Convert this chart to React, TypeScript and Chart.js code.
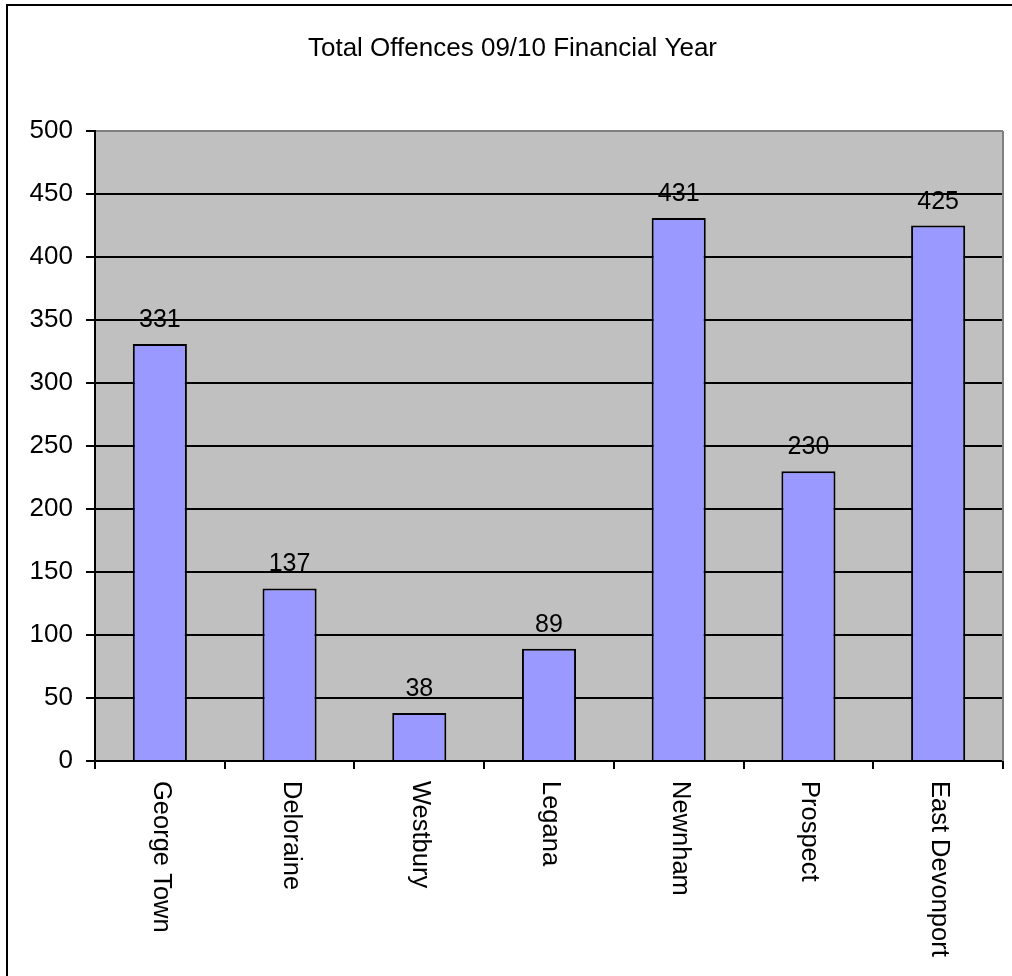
import React, { useEffect, useRef } from "react";
import { Chart, registerables } from "chart.js";

Chart.register(...registerables);

const titleText = "Total Offences 09/10 Financial Year";
const categories = ["George Town", "Deloraine", "Westbury", "Legana", "Newnham", "Prospect", "East Devonport"];
const offences = [331, 137, 38, 89, 431, 230, 425];
const yMin = 0;
const yMax = 500;
const yStep = 50;

const FONT = "'Liberation Sans', Arial, sans-serif";

const framePlugin = {
  id: "frame",
  beforeDraw(chart: any) {
    const { ctx, chartArea, width, height } = chart;
    ctx.save();
    ctx.fillStyle = "#ffffff";
    ctx.fillRect(0, 0, width, height);
    ctx.fillStyle = "#C0C0C0";
    ctx.fillRect(chartArea.left, chartArea.top, chartArea.right - chartArea.left, chartArea.bottom - chartArea.top);
    ctx.restore();
  },
  afterDraw(chart: any) {
    const { ctx, chartArea } = chart;
    ctx.save();
    ctx.strokeStyle = "#808080";
    ctx.lineWidth = 2;
    ctx.beginPath();
    ctx.moveTo(chartArea.right, chartArea.top);
    ctx.lineTo(chartArea.right, chartArea.bottom);
    ctx.stroke();
    ctx.strokeStyle = "#000000";
    ctx.lineWidth = 2;
    ctx.strokeRect(7, 5, 1030, 1000);
    const xs = chart.scales.x;
    ctx.fillStyle = "#000000";
    ctx.font = `25.5px ${FONT}`;
    ctx.textAlign = "left";
    ctx.textBaseline = "middle";
    categories.forEach((label, i) => {
      const x = xs.getPixelForValue(i);
      ctx.save();
      ctx.translate(x + 1, chartArea.bottom + 20);
      ctx.rotate(Math.PI / 2);
      ctx.fillText(label, 0, 0);
      ctx.restore();
    });
    ctx.restore();
  },
  afterDatasetsDraw(chart: any) {
    const { ctx } = chart;
    const meta = chart.getDatasetMeta(0);
    ctx.save();
    ctx.fillStyle = "#000000";
    ctx.font = `25px ${FONT}`;
    ctx.textAlign = "center";
    ctx.textBaseline = "alphabetic";
    meta.data.forEach((bar: any, i: number) => {
      ctx.fillText(String(offences[i]), bar.x, bar.y - 17);
    });
    ctx.restore();
  },
};

export default function App() {
  const ref = useRef<HTMLCanvasElement | null>(null);
  useEffect(() => {
    document.body.style.margin = "0";
    const canvas = ref.current!;
    const chart = new Chart(canvas, {
      type: "bar",
      data: {
        labels: categories,
        datasets: [
          {
            data: offences,
            backgroundColor: "#9999FF",
            borderColor: "#000000",
            borderWidth: 2,
            categoryPercentage: 1,
            barPercentage: 0.417,
          },
        ],
      },
      options: {
        animation: false,
        responsive: false,
        devicePixelRatio: 1,
        layout: { padding: { left: 22, right: 9, top: 0, bottom: 0 } },
        plugins: {
          legend: { display: false },
          tooltip: { enabled: false },
          title: {
            display: true,
            text: titleText,
            color: "#000000",
            font: { family: FONT, size: 26, weight: "normal", lineHeight: 1.2 },
            padding: { top: 33, bottom: 66.8 },
          },
        },
        scales: {
          x: {
            offset: true,
            grid: {
              offset: true,
              drawOnChartArea: false,
              drawTicks: true,
              tickLength: 8,
              color: "#000000",
              tickColor: "#000000",
              lineWidth: 2,
            },
            border: { display: true, color: "#000000", width: 2 },
            ticks: { display: false },
            afterFit(scale: any) {
              scale.height = 976 - 761;
            },
          },
          y: {
            min: yMin,
            max: yMax,
            ticks: {
              stepSize: yStep,
              color: "#000000",
              font: { family: FONT, size: 26 },
              padding: 13,
            },
            grid: {
              color: (c: any) => (c.tick && c.tick.value === yMax ? "#808080" : "#000000"),
              tickColor: "#000000",
              tickLength: 9,
              lineWidth: 2,
            },
            border: { display: true, color: "#000000", width: 2 },
            afterFit(scale: any) {
              scale.width = 95 - 22;
            },
          },
        },
      },
      plugins: [framePlugin],
    });
    return () => chart.destroy();
  }, []);
  return (
    <div style={{ position: "absolute", left: 0, top: 0, width: 1012, height: 976 }}>
      <canvas ref={ref} width={1012} height={976} />
    </div>
  );
}
